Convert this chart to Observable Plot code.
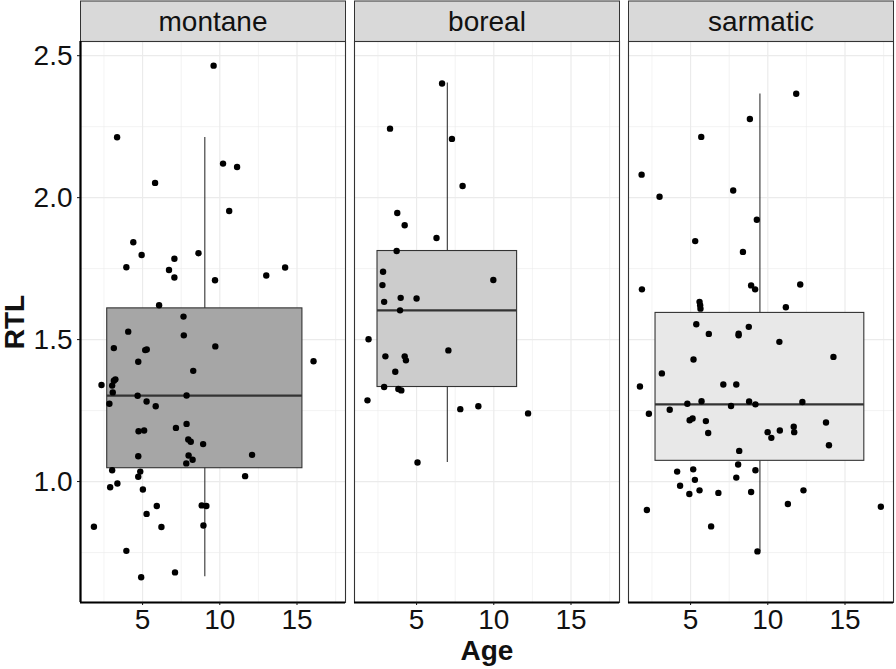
<!DOCTYPE html>
<html>
<head>
<meta charset="utf-8">
<script src="https://cdn.jsdelivr.net/npm/d3@7"></script>
<script src="https://cdn.jsdelivr.net/npm/@observablehq/plot@0.6"></script>
<style>
  html, body { margin: 0; padding: 0; background: #ffffff; }
  #chart { width: 896px; height: 669px; }
</style>
</head>
<body>
<div id="chart"></div>
<script>
// ---------- data ----------
const regions = ["montane", "boreal", "sarmatic"];

const montaneAge = [9.60,3.35,10.21,11.12,5.81,10.61,4.40,4.94,8.62,7.06,3.95,6.71,7.06,9.69,13.01,14.23,6.07,7.65,4.07,7.67,3.14,9.71,5.17,5.27,4.72,16.07,8.28,3.24,3.14,2.34,3.03,3.07,4.68,7.85,2.85,5.26,5.85,7.16,7.85,4.74,5.10,7.96,8.12,8.92,4.72,12.09,7.98,8.24,7.83,3.03,4.85,4.72,11.64,2.90,3.37,5.02,8.83,9.13,5.92,5.26,8.94,6.22,1.85,3.95,7.10,4.91];
const montaneRTL = [2.465,2.213,2.120,2.108,2.052,1.953,1.843,1.798,1.804,1.785,1.755,1.745,1.719,1.709,1.726,1.754,1.621,1.581,1.528,1.515,1.470,1.476,1.463,1.465,1.422,1.424,1.390,1.360,1.355,1.340,1.338,1.314,1.302,1.303,1.274,1.282,1.265,1.189,1.203,1.177,1.180,1.148,1.140,1.132,1.089,1.094,1.092,1.077,1.064,1.040,1.035,1.017,1.019,0.980,0.993,0.972,0.916,0.914,0.914,0.886,0.845,0.840,0.841,0.756,0.680,0.663];

const borealAge = [6.65,3.28,7.29,7.98,3.75,4.23,6.29,3.71,2.83,9.97,2.79,2.90,3.97,5.00,3.93,1.89,7.06,2.98,4.23,4.31,3.62,2.90,3.82,4.01,1.82,7.83,9.00,12.22,5.06];
const borealRTL = [2.402,2.243,2.207,2.041,1.946,1.903,1.858,1.812,1.739,1.710,1.692,1.633,1.647,1.645,1.603,1.501,1.462,1.441,1.441,1.427,1.387,1.333,1.326,1.321,1.286,1.255,1.265,1.240,1.067];

const sarmaticAge = [11.84,8.84,5.69,1.83,2.99,7.76,9.29,5.30,8.39,1.85,8.92,9.18,12.10,5.58,5.62,5.64,11.17,5.37,6.18,8.11,8.11,8.77,10.75,5.19,14.25,3.14,1.72,7.12,7.96,2.30,3.65,4.79,5.71,7.62,8.79,9.20,12.24,4.94,5.13,5.99,6.14,9.99,10.23,10.78,11.68,11.71,13.77,13.96,8.15,8.08,9.20,4.13,5.17,5.28,7.96,4.32,4.92,5.58,6.80,8.92,12.31,11.30,17.32,2.17,6.33,9.33];
const sarmaticRTL = [2.366,2.277,2.214,2.081,2.003,2.025,1.922,1.847,1.809,1.677,1.691,1.677,1.694,1.633,1.621,1.609,1.614,1.554,1.520,1.521,1.515,1.545,1.492,1.430,1.439,1.381,1.335,1.342,1.342,1.239,1.253,1.274,1.283,1.266,1.282,1.272,1.280,1.216,1.222,1.213,1.171,1.174,1.154,1.180,1.193,1.174,1.208,1.128,1.108,1.060,1.040,1.035,1.043,1.006,1.014,0.985,0.956,0.969,0.960,0.963,0.969,0.921,0.911,0.900,0.842,0.754];

// box-plot statistics per region
const boxAgeMin   = [2.71, 2.47, 2.73];
const boxAgeMax   = [15.35, 11.51, 16.25];
const whiskerLow  = [0.665, 1.067, 0.754];
const lowerHinge  = [1.047, 1.333, 1.073];
const medianRTL   = [1.303, 1.603, 1.272];
const upperHinge  = [1.610, 1.812, 1.594];
const whiskerHigh = [2.212, 2.404, 2.365];

// axis ticks
const xTicks = [5, 10, 15];
const xMinor = [2.5, 7.5, 12.5, 17.5];
const yTicks = [1.0, 1.5, 2.0, 2.5];
const yMinor = [0.75, 1.25, 1.75, 2.25];
const xDomain = [0.98, 18.14];
const yDomain = [0.574, 2.55];

// ---------- tables ----------
const ages = {montane: montaneAge, boreal: borealAge, sarmatic: sarmaticAge};
const rtls = {montane: montaneRTL, boreal: borealRTL, sarmatic: sarmaticRTL};
const points = regions.flatMap(r => ages[r].map((a, i) => ({region: r, age: a, rtl: rtls[r][i]})));
const boxes = regions.map((r, i) => ({
  region: r, xmin: boxAgeMin[i], xmax: boxAgeMax[i], xmid: (boxAgeMin[i] + boxAgeMax[i]) / 2,
  lo: whiskerLow[i], q1: lowerHinge[i], med: medianRTL[i], q3: upperHinge[i], hi: whiskerHigh[i]
}));

const font = "'Liberation Sans', Arial, Helvetica, sans-serif";
const W = 896, H = 669, MT = 41, MB = 67, ML = 79, MR = 1;
const frameH = H - MT - MB;

const chart = Plot.plot({
  width: W, height: H,
  marginTop: MT, marginBottom: MB, marginLeft: ML, marginRight: MR,
  style: {fontFamily: font, background: "#ffffff", overflow: "visible"},
  fx: {domain: regions, padding: 0.032, axis: null},
  x: {domain: xDomain},
  y: {domain: yDomain},
  color: {domain: regions, range: ["#a6a6a6", "#cccccc", "#e8e8e8"]},
  marks: [
    // strips
    Plot.frame({fill: "#d9d9d9", stroke: "#333333", strokeWidth: 1, insetTop: -MT + 0.5, insetBottom: frameH}),
    Plot.text(regions, {fx: d => d, text: d => d, frameAnchor: "top", lineAnchor: "middle", dy: -19, fontSize: 28, fill: "#111111"}),
    // grid
    Plot.ruleX(xMinor, {stroke: "#ebebeb", strokeWidth: 0.6}),
    Plot.ruleY(yMinor, {stroke: "#ebebeb", strokeWidth: 0.6}),
    Plot.ruleX(xTicks, {stroke: "#ebebeb", strokeWidth: 1.2}),
    Plot.ruleY(yTicks, {stroke: "#ebebeb", strokeWidth: 1.2}),
    // boxplots
    Plot.ruleX(boxes, {fx: "region", x: "xmid", y1: "lo", y2: "hi", stroke: "#333333", strokeWidth: 1.1}),
    Plot.rect(boxes, {fx: "region", x1: "xmin", x2: "xmax", y1: "q1", y2: "q3", fill: "region", stroke: "#333333", strokeWidth: 1.1}),
    Plot.ruleY(boxes, {fx: "region", y: "med", x1: "xmin", x2: "xmax", stroke: "#333333", strokeWidth: 2.3}),
    // points
    Plot.dot(points, {fx: "region", x: "age", y: "rtl", r: 3.2, fill: "#000000", stroke: null}),
    // panel border
    Plot.frame({stroke: "#333333", strokeWidth: 1.1}),
    // axis lines
    Plot.ruleY([yDomain[0]], {stroke: "#000000", strokeWidth: 2.2}),
    Plot.ruleX([{region: "montane", x: xDomain[0]}], {fx: "region", x: "x", stroke: "#000000", strokeWidth: 2.2}),
    // axes
    Plot.axisX({ticks: xTicks, tickSize: 3, tickPadding: 4, fontSize: 28, color: "#111111", label: null}),
    Plot.axisY({ticks: yTicks, tickFormat: d3.format(".1f"), tickSize: 3, tickPadding: 5, fontSize: 28, color: "#111111", label: null}),
    // axis titles
    Plot.text(["Age"], {fx: () => "boreal", text: d => d, frameAnchor: "bottom", textAnchor: "middle", lineAnchor: "middle", dy: 49, fontSize: 28, fontWeight: "bold", fill: "#111111"}),
    Plot.text(["RTL"], {fx: () => "montane", text: d => d, frameAnchor: "left", textAnchor: "middle", lineAnchor: "middle", rotate: -90, dx: -65, fontSize: 28, fontWeight: "bold", fill: "#111111"})
  ]
});
document.getElementById("chart").appendChild(chart);
</script>
</body>
</html>
